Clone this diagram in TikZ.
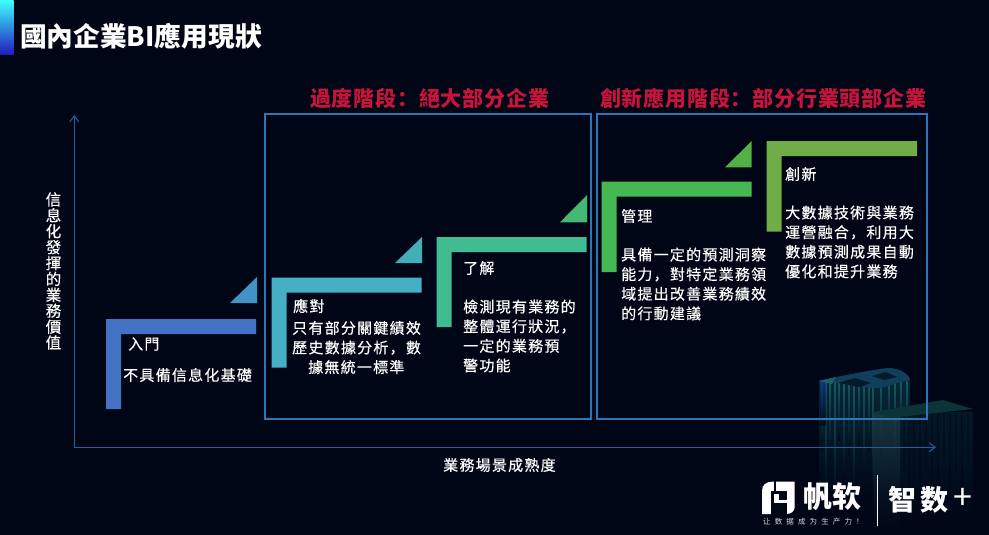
\documentclass[tikz,border=0pt]{standalone}
\usepackage{fontspec}
\usetikzlibrary{arrows.meta}
\setmainfont{Noto Sans CJK SC}
\newfontfamily\spaced[LetterSpace=8.3,FakeBold=0.35]{Noto Sans CJK SC}
\newfontfamily\phasefont[LetterSpace=3.8]{Noto Sans CJK SC}
\newfontfamily\vertfont[FakeBold=0.35]{Noto Sans CJK SC}
\definecolor{bgc}{HTML}{000616}
\definecolor{linec}{HTML}{2E75B6}
\definecolor{axisc}{HTML}{24609F}
\definecolor{redc}{HTML}{C8143C}
\definecolor{bA}{HTML}{4472C4}
\definecolor{bB}{HTML}{45B0C4}
\definecolor{bC}{HTML}{40BC90}
\definecolor{bD}{HTML}{45B854}
\definecolor{bE}{HTML}{70AD47}
\definecolor{tA}{HTML}{4392C6}
\definecolor{tB}{HTML}{44AEB8}
\definecolor{tC}{HTML}{45B874}
\definecolor{tD}{HTML}{54B044}
\definecolor{tealc}{HTML}{1E8A90}
\definecolor{roofA}{HTML}{0F3F5C}
\definecolor{roofB}{HTML}{0B3436}
\tikzset{
  x=1pt,y=-1pt,
  stagebox/.style={draw=linec,line width=2pt,outer sep=0pt,inner sep=0pt},
  axisline/.style={draw=axisc,line width=1pt,-{Straight Barb[length=6pt,width=9pt]}},
  body/.style={text=white,align=left,inner sep=0pt,anchor=west,
    font=\fontsize{15}{19.6}\selectfont\spaced},
  heading/.style={text=white,inner sep=0pt,anchor=west,
    font=\fontsize{15}{19.6}\selectfont\spaced},
  phase/.style={text=redc,inner sep=0pt,anchor=west,
    font=\fontsize{21}{24}\selectfont\bfseries\phasefont},
}
\newcommand{\elbow}[5]{% x0,y0,x1,y1,colour (thickness 15)
  \fill[#5] (#1,#2) -- (#3,#2) -- (#3,#2+15) -- (#1+15,#2+15) -- (#1+15,#4) -- (#1,#4) -- cycle;}
\newcommand{\bstrip}[4]{% x, top, bottom, colour
  \shade[top color=#4,bottom color=bgc,opacity=.8] (#1,#2) rectangle (#1+1.6,#3);}
\begin{document}
\begin{tikzpicture}
\useasboundingbox (0,0) rectangle (989,535);
\fill[bgc] (0,0) rectangle (989,535);
% title bar
\shade[top color=cyan!75!white,bottom color={rgb,255:red,32;green,24;blue,190}] (0,0) rectangle (13.5,55);
% buildings
\shade[top color=tealc!25!bgc,bottom color=bgc] (819,380) rectangle (910,500);
\foreach \x/\b in {821/450,825/490,829/460,834/500,838/440,843/480,848/455,853/495,858/445,863/475,868/450,872/490,880/455,888/435,894/465,900/440,906/455}{
  \bstrip{\x}{381}{\b}{tealc!75!bgc}
}
\shade[top color=blue!45!tealc!70!bgc,bottom color=bgc,opacity=.7] (820,381) rectangle (826,425);
\fill[roofA] (819,381) .. controls (840,376) and (870,370) .. (888,368) .. controls (900,368) and (909,374) .. (910,380) .. controls (890,384) and (885,388) .. (880,388) .. controls (860,388) and (840,382) .. (819,381) -- cycle;
\fill[tealc!70!bgc] (819,381) -- (836,377) -- (832,384) -- cycle;
\fill[bgc!85!tealc] (838,383) -- (855,378) -- (871,383) -- (860,387) -- cycle;
\fill[bgc!85!tealc] (872,376) -- (886,372) -- (897,377) -- (884,380) -- cycle;
\shade[top color=tealc!18!bgc,bottom color=bgc,opacity=.8] (900,412) rectangle (973,525);
\shade[top color=gray!45!tealc!45!bgc,bottom color=bgc,opacity=.7] (873,412) rectangle (900,530);
\foreach \x/\b in {903/470,908/500,913/480,919/510,925/470,931/500,937/480,943/460,949/490,955/470,961/500,967/460}{
  \shade[top color=bgc,bottom color=bgc,opacity=.45] (\x,414) rectangle (\x+1.6,\b);
}
\fill[roofB] (873,412) -- (943,400) -- (973,409) -- (925,414) -- (890,418) -- cycle;
% axes
\coordinate (O) at (74.3,447.3);
\coordinate (yend) at (74.3,115);
\coordinate (xend) at (936,447.3);
\draw[axisline] (O) -- (yend);
\draw[axisline] (O) -- (xend);
% stage boxes
\node[stagebox,minimum width=326.5pt,minimum height=304.5pt,anchor=north west] (boxA) at (264.7,114.5) {};
\node[stagebox,minimum width=330pt,minimum height=304.5pt,anchor=north west] (boxB) at (597,114.5) {};
% elbows
\elbow{106}{319}{256}{409}{bA}
\elbow{271.5}{277.5}{421.5}{367.5}{bB}
\elbow{436.5}{237}{586.5}{327}{bC}
\elbow{601.7}{181.7}{751.7}{272}{bD}
\elbow{766.7}{141}{917}{231.7}{bE}
% triangles
\fill[tA] (230,303) -- (257,303) -- (257,277) -- cycle;
\fill[tB] (395,263) -- (422,263) -- (422,237) -- cycle;
\fill[tC] (560,222.3) -- (587,222.3) -- (587,195) -- cycle;
\fill[tD] (725,167.3) -- (751.7,167.3) -- (751.7,141) -- cycle;
% titles
\node[text=white,inner sep=0pt,anchor=west,font=\fontsize{26.7}{28}\selectfont\bfseries] (title) at (20,36) {國內企業BI應用現狀};
\node[phase] (phaseA) at (310,98) {過度階段：絕大部分企業};
\node[phase] (phaseB) at (600,98) {創新應用階段：部分行業頭部企業};
% texts
\node[heading] (n1) at (128,344) {入門};
\node[heading] (d1) at (123,375) {不具備信息化基礎};
\node[heading] (n2) at (293,306) {應對};
\node[body] (d2) at (292,347.5) {只有部分關鍵績效\\歷史數據分析，數\\\hspace*{16pt}據無統一標準};
\node[heading] (n3) at (463,268) {了解};
\node[body] (d3) at (463,336) {檢測現有業務的\\整體運行狀況，\\一定的業務預\\警功能};
\node[heading] (n4) at (621,216) {管理};
\node[body] (d4) at (621,284) {具備一定的預測洞察\\能力，對特定業務領\\域提出改善業務績效\\的行動建議};
\node[heading] (n5) at (785,174) {創新};
\node[body] (d5) at (785,242) {大數據技術與業務\\運營融合，利用大\\數據預測成果自動\\優化和提升業務};
% axis labels
\node[text=white,inner sep=0pt,align=center,font=\fontsize{15.5}{15.9}\selectfont\vertfont] (ylab) at (53.5,271)
  {信\\息\\化\\發\\揮\\的\\業\\務\\價\\值};
\node[text=white,inner sep=0pt,anchor=west,font=\fontsize{15}{18}\selectfont\spaced] (xlab) at (443,465) {業務場景成熟度};
% logo
\fill[white] (762,514) -- (762,491) .. controls (762,485) and (766,481.7) .. (772,481.7) -- (794.7,481.7) -- (794.7,507) .. controls (794.7,511) and (791,514) .. (787,514) -- cycle;
\fill[bgc] (773.7,481) rectangle (776.3,491);
\fill[bgc] (771.3,491) rectangle (787.3,493.7);
\fill[bgc] (771.3,491) rectangle (774,514.5);
\fill[bgc] (778.7,493) rectangle (787.3,500);
\fill[bgc] (771.3,503) rectangle (787.3,514.5);
\node[text=white,inner sep=0pt,anchor=west,font=\fontsize{29}{30}\selectfont\bfseries] (brand) at (803,497) {帆软};
\node[text=white!85!black,inner sep=0pt,anchor=west,font=\fontsize{7.5}{8}\selectfont\addfontfeature{LetterSpace=55}] (slogan) at (763,522) {让数据成为生产力！};
\coordinate (sepT) at (877.5,475);
\coordinate (sepB) at (877.5,526);
\draw[white,line width=1.4pt] (sepT) -- (sepB);
\node[text=white,inner sep=0pt,anchor=west,font=\fontsize{28}{30}\selectfont\bfseries] (zhi) at (888,500) {智\kern4pt 数};
\node[text=white,inner sep=0pt,font=\fontsize{34}{34}\selectfont] (plus) at (962.5,499) {+};
\end{tikzpicture}
\end{document}
